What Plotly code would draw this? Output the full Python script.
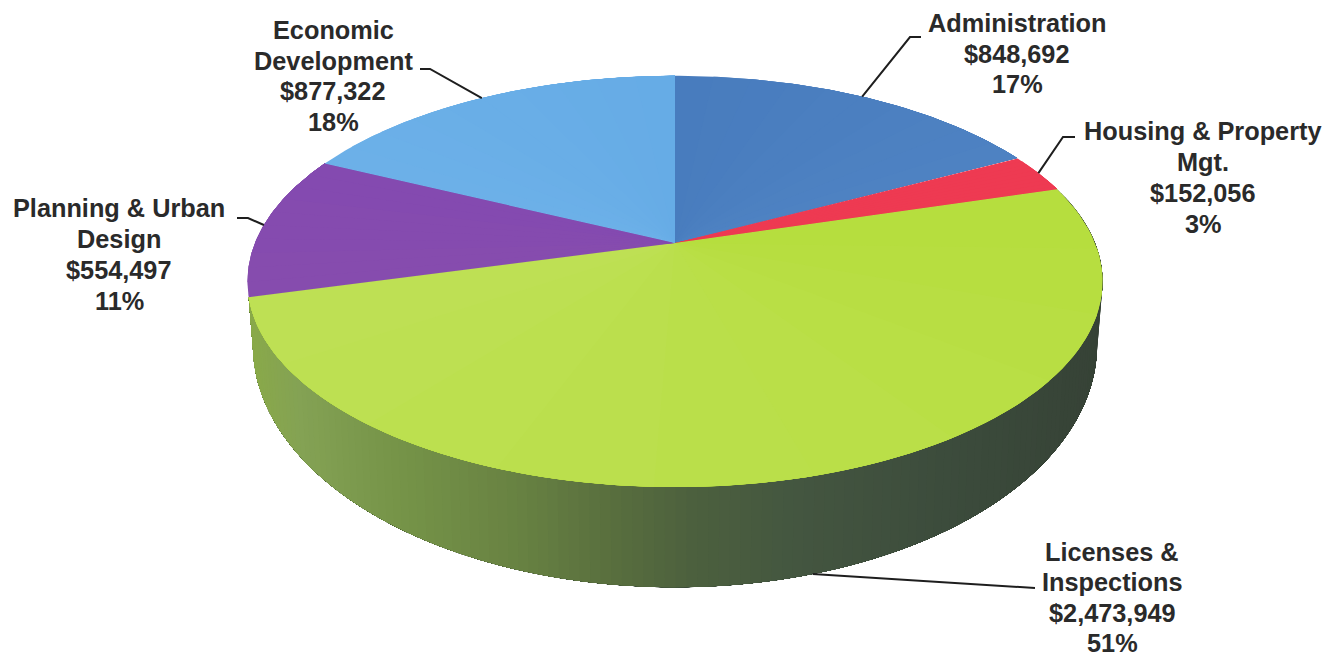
import numpy as np
import plotly.graph_objects as go

# Department budgets, clockwise from twelve o'clock
departments = ["Administration", "Housing & Property Mgt.", "Licenses & Inspections",
               "Planning & Urban Design", "Economic Development"]
budgets = [848692, 152056, 2473949, 554497, 877322]
percent_labels = ["17%", "3%", "51%", "11%", "18%"]
label_lines = [
    ["Administration", "$848,692", "17%"],
    ["Housing & Property", "Mgt.", "$152,056", "3%"],
    ["Licenses &", "Inspections", "$2,473,949", "51%"],
    ["Planning & Urban", "Design", "$554,497", "11%"],
    ["Economic", "Development", "$877,322", "18%"],
]

# Top-face colours at the start and end of each slice
face_start = [(72, 124, 190), (238, 58, 82), (182, 222, 62), (134, 76, 174), (108, 176, 232)]
face_end = [(78, 130, 194), (238, 58, 82), (190, 224, 84), (132, 74, 176), (102, 172, 230)]

# Rim shading, from the left of the pie to the right
rim_x = [245, 300, 400, 520, 620, 700, 800, 950, 1105]
rim_rgb = [(138, 170, 72), (132, 162, 84), (118, 148, 72), (104, 130, 66), (88, 110, 62),
           (76, 96, 62), (68, 86, 64), (60, 76, 60), (54, 66, 54)]

# Perspective parameters of the two discs
CX, TILT = 675.0, 0.187
TOP = dict(y0=243.0, ax=420.0, ay=198.4)
BOTTOM = dict(y0=300.0, ax=414.6, ay=233.5)

# Label placement: centre x, centre y of the first line, line pitch
label_anchor = [(1017, 23, 30.5), (1203, 131, 31), (1112, 552, 30.4), (119, 208, 31), (333, 30, 30.5)]
# Leader elbow points after the slice-edge anchor
leader_tail = [[(910, 37), (921, 37)], [(1063, 137), (1075, 137)], [(1035, 588)],
               [(248, 218), (237, 218)], [(430, 69), (420, 69)]]


def project(deg, disc):
    t = np.radians(np.asarray(deg, dtype=float))
    u, v = np.sin(t), np.cos(t)
    w = 1 + TILT * v
    return CX + disc["ax"] * u / w, disc["y0"] - disc["ay"] * v / w


def css(rgb):
    return "rgb({:.0f},{:.0f},{:.0f})".format(*rgb)


share = np.array(budgets, dtype=float) / sum(budgets)
edges = np.concatenate([[0], np.cumsum(share) * 360])

fig = go.Figure()


def polygon(xs, ys, colour, edge=0.6):
    fig.add_trace(go.Scatter(x=xs, y=ys, mode="lines", fill="toself", fillcolor=colour,
                             line=dict(color=colour, width=edge), hoverinfo="skip", showlegend=False))


# Rim of the largest slice, the only one that faces the viewer.
# Each band runs on to the end of the arc so neighbours overlap and no seams show.
rim_start, rim_end = edges[2], edges[3]
rim_angles = np.linspace(rim_start, rim_end, 151)
for a0 in rim_angles[:-1]:
    arc = np.linspace(a0, rim_end, 60)
    tx, ty = project(arc, TOP)
    bx, by = project(arc, BOTTOM)
    xs = np.concatenate([tx, bx[::-1], tx[:1]])
    ys = np.concatenate([ty, by[::-1], ty[:1]])
    # shade by the screen position of the band's near edge
    colour = [np.interp(tx[0], rim_x, [c[i] for c in rim_rgb]) for i in range(3)]
    polygon(xs, ys, css(colour), edge=0)

# Top face: each slice is painted in overlapping wedges so its shade drifts with angle
STEPS = 10
for i in range(len(budgets)):
    start, stop = edges[i], edges[i + 1]
    for s in range(STEPS):
        f = s / (STEPS - 1)
        a0 = start + (stop - start) * s / STEPS
        arc = np.linspace(a0, stop, 90)
        ax_, ay_ = project(arc, TOP)
        xs = np.concatenate([[CX], ax_, [CX]])
        ys = np.concatenate([[TOP["y0"]], ay_, [TOP["y0"]]])
        colour = [face_start[i][k] * (1 - f) + face_end[i][k] * f for k in range(3)]
        polygon(xs, ys, css(colour), edge=0)

# Leader lines start on the middle of each slice's edge
for i in range(len(budgets)):
    mid = (edges[i] + edges[i + 1]) / 2
    disc = BOTTOM if i == 2 else TOP
    sx, sy = project([mid], disc)
    xs = [sx[0]] + [p[0] for p in leader_tail[i]]
    ys = [sy[0]] + [p[1] for p in leader_tail[i]]
    fig.add_trace(go.Scatter(x=xs, y=ys, mode="lines", line=dict(color="#1e1e1e", width=2),
                             hoverinfo="skip", showlegend=False))

annotations = []
for lines, (lx, ly, pitch) in zip(label_lines, label_anchor):
    for n, text in enumerate(lines):
        annotations.append(dict(x=lx, y=ly + n * pitch, text="<b>" + text + "</b>", showarrow=False,
                                xref="x", yref="y", xanchor="center", yanchor="middle",
                                font=dict(family="Liberation Sans", size=25.3, color="#2a2a2a")))

fig.update_layout(
    width=1336, height=656, margin=dict(l=0, r=0, t=0, b=0),
    paper_bgcolor="white", plot_bgcolor="white", showlegend=False,
    xaxis=dict(range=[0, 1336], visible=False, fixedrange=True),
    yaxis=dict(range=[656, 0], visible=False, fixedrange=True),
    annotations=annotations,
)

fig.write_html("out.html", config={"displayModeBar": False})
